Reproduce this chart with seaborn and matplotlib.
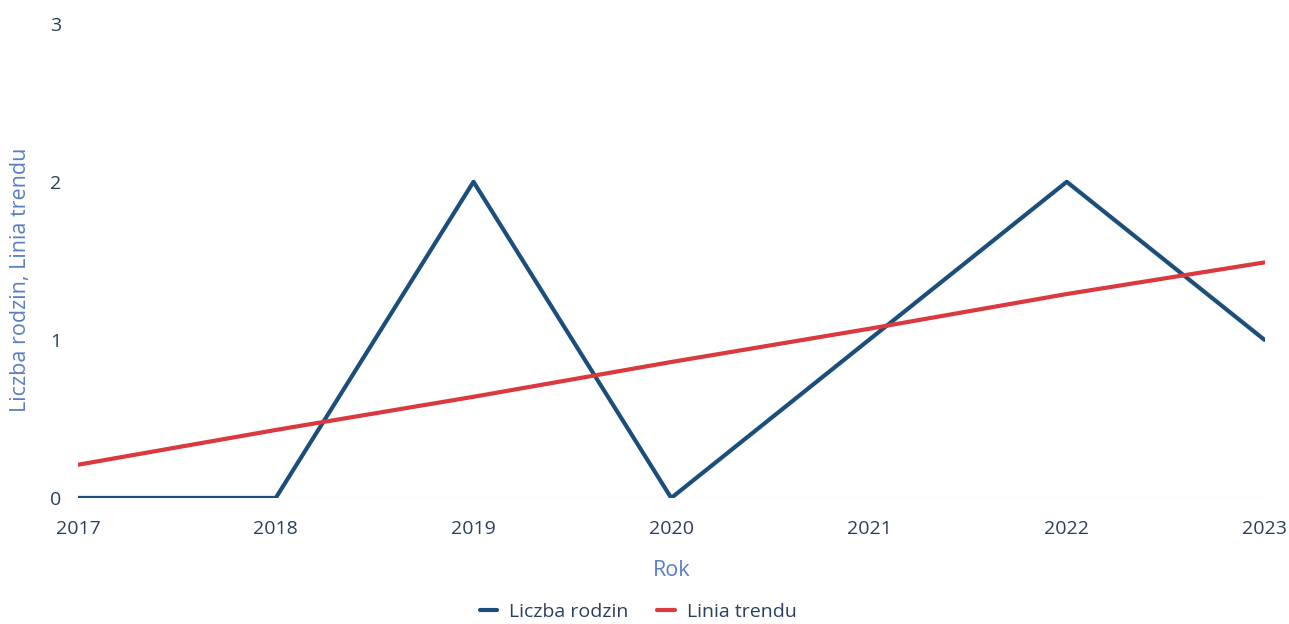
import numpy as np
import pandas as pd
import matplotlib
matplotlib.use("Agg")
import matplotlib.pyplot as plt
import seaborn as sns

lata = [2017, 2018, 2019, 2020, 2021, 2022, 2023]
liczba_rodzin = [0, 0, 2, 0, 1, 2, 1]
linia_trendu = [0.21, 0.43, 0.64, 0.86, 1.07, 1.29, 1.49]

df = pd.DataFrame({
    "Rok": lata * 2,
    "wartosc": liczba_rodzin + linia_trendu,
    "seria": ["Liczba rodzin"] * len(lata) + ["Linia trendu"] * len(lata),
})

sns.set_style("white")
plt.rcParams['font.family'] = ['Open Sans', 'DejaVu Sans']

tick_col = "#2a3f5f"
label_col = "#5a7fc2"
palette = {"Liczba rodzin": "#1c4e7b", "Linia trendu": "#d9393f"}

fig = plt.figure(figsize=(12.89, 6.24), dpi=100)
ax = fig.add_axes([0.0605, 0.202, 0.9205, 0.76])

sns.lineplot(data=df, x="Rok", y="wartosc", hue="seria", palette=palette,
             linewidth=3.0, ax=ax, legend=False)

ax.set_xlim(2017, 2023)
ax.set_ylim(0, 3)
ax.set_xticks(lata)
ax.set_yticks([0, 1, 2, 3])
for s in ax.spines.values():
    s.set_visible(False)
ax.tick_params(axis="both", length=0, labelsize=14, colors=tick_col)
ax.tick_params(axis="y", pad=12)
ax.tick_params(axis="x", pad=16)
ax.set_xlabel("Rok", fontsize=15.5, color=label_col, labelpad=16)
ax.set_ylabel("Liczba rodzin, Linia trendu", fontsize=15.5, color=label_col)
ax.yaxis.set_label_coords(-0.04, 0.46)
ax.axhline(0, color="#f0f0f0", linewidth=1, zorder=0)

handles = [plt.Line2D([0], [0], color=palette[k], linewidth=3.0) for k in palette]
fig.legend(handles, list(palette.keys()), loc="center", bbox_to_anchor=(0.495, 0.02),
           ncol=2, frameon=False, fontsize=14, handlelength=0.9, columnspacing=1.5,
           handletextpad=0.6, labelcolor=tick_col)

fig.savefig("out.png", dpi=100)
